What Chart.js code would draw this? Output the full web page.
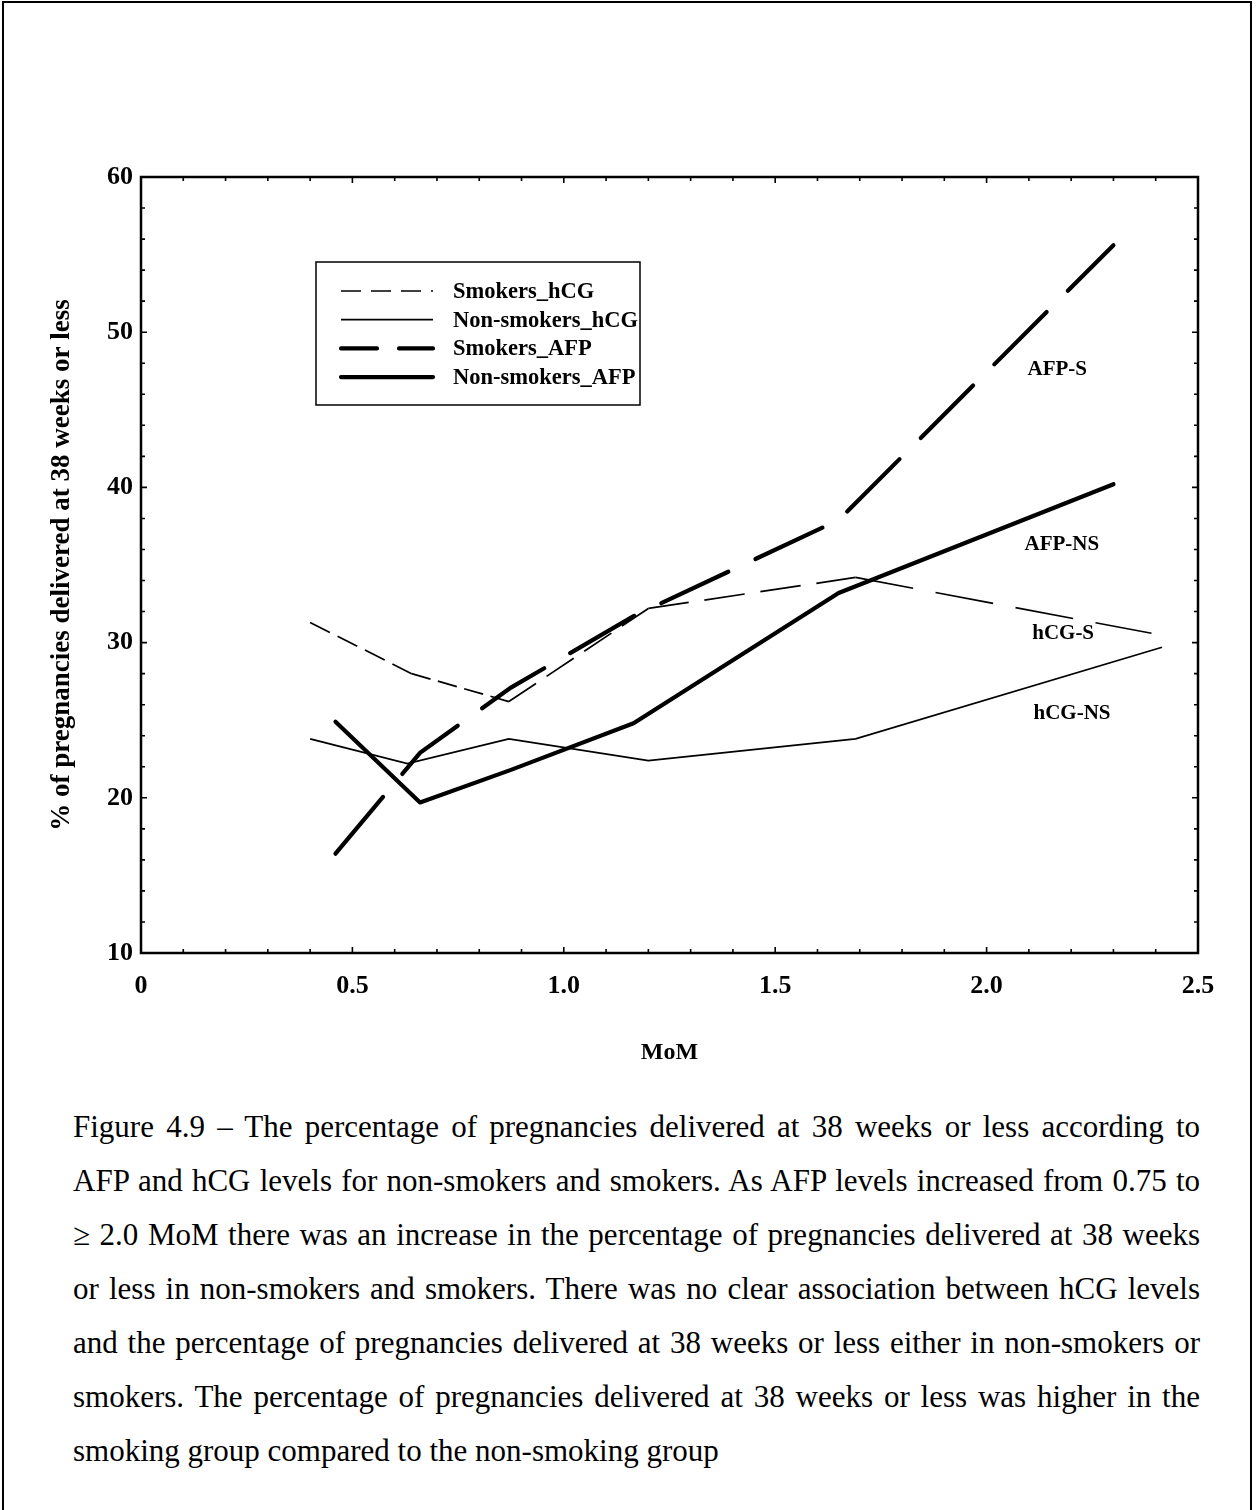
<!DOCTYPE html>
<html>
<head>
<meta charset="utf-8">
<script src="https://cdn.jsdelivr.net/npm/chart.js@4.4.1/dist/chart.umd.min.js"></script>
<style>
  html, body { margin: 0; padding: 0; background: #fff; }
  body { width: 1256px; height: 1510px; position: relative; overflow: hidden; }
  .frame { position: absolute; left: 2px; top: 1px; width: 1250px; height: 1520px;
           border: 2px solid #000; box-sizing: border-box; }
  #wrap { position: absolute; left: 0; top: 0; width: 1256px; height: 1080px; }
  .caption { position: absolute; left: 73px; top: 1100px; width: 1127px;
             font-family: "Liberation Serif", "Times New Roman", serif; font-size: 31px; color: #000; }
  .caption div { height: 54px; line-height: 54px; white-space: nowrap; text-align: justify; text-align-last: justify; }
  .caption div.last { text-align-last: left; }
</style>
</head>
<body>
<div class="frame"></div>
<div id="wrap"><canvas id="chart"></canvas></div>
<div class="caption">
  <div>Figure 4.9 – The percentage of pregnancies delivered at 38 weeks or less according to</div>
  <div>AFP and hCG levels for non-smokers and smokers. As AFP levels increased from 0.75 to</div>
  <div>≥ 2.0 MoM there was an increase in the percentage of pregnancies delivered at 38 weeks</div>
  <div>or less in non-smokers and smokers. There was no clear association between hCG levels</div>
  <div>and the percentage of pregnancies delivered at 38 weeks or less either in non-smokers or</div>
  <div>smokers. The percentage of pregnancies delivered at 38 weeks or less was higher in the</div>
  <div class="last">smoking group compared to the non-smoking group</div>
</div>
<script>
// values (MoM, % delivered at <= 38 weeks)
const smkHcgX = [0.40, 0.64, 0.87, 1.20, 1.69, 2.39]
const smkHcgY = [31.3, 28.0, 26.2, 32.2, 34.2, 30.6]
const nonHcgX = [0.40, 0.63, 0.87, 1.20, 1.69, 2.415]
const nonHcgY = [23.8, 22.2, 23.8, 22.4, 23.8, 29.7]
const smkAfpX = [0.46, 0.66, 0.875, 1.165, 1.65, 2.30]
const smkAfpY = [16.4, 22.9, 27.1, 31.7, 37.9, 55.6]
const nonAfpX = [0.46, 0.66, 0.875, 1.165, 1.65, 2.30]
const nonAfpY = [24.9, 19.7, 21.8, 24.8, 33.2, 40.2]

const seriesNames = ["Smokers_hCG", "Non-smokers_hCG", "Smokers_AFP", "Non-smokers_AFP"]
const xTicks = [0, 0.5, 1.0, 1.5, 2.0, 2.5]
const yTicks = [10, 20, 30, 40, 50, 60]

// in-plot labels: [text, x, y]
const curveLabels = [
  ["AFP-S", 2.167, 47.6],
  ["AFP-NS", 2.178, 36.3],
  ["hCG-S", 2.181, 30.55],
  ["hCG-NS", 2.202, 25.4],
]

const SERIF = "'Liberation Serif', 'Times New Roman', serif"
Chart.defaults.font.family = SERIF
Chart.defaults.color = "#000"

const pts = (xs, ys) => xs.map((x, i) => ({ x, y: ys[i] }))

// thin dashes get shorter/longer with each segment, like the original plot
const segDash = (c) => {
  const len = Math.hypot(c.p1.x - c.p0.x, c.p1.y - c.p0.y)
  const p = len / 3.7
  return [p * 0.72, p * 0.28]
}

const legendDash = [[20, 10], [], [36, 22], []]

const framePlugin = {
  id: "framePlugin",
  afterDatasetsDraw(chart) {
    const { ctx, chartArea: a, scales: { x, y } } = chart
    ctx.save()
    ctx.strokeStyle = "#000"
    ctx.lineWidth = 2.5
    ctx.strokeRect(a.left, a.top, a.right - a.left, a.bottom - a.top)

    // inward tick marks on all four sides
    ctx.lineWidth = 1.6
    ctx.beginPath()
    for (let i = 0; i <= 25; i++) {
      const px = x.getPixelForValue(i / 10)
      const len = i % 5 === 0 ? 6 : 4
      ctx.moveTo(px, a.bottom); ctx.lineTo(px, a.bottom - len)
      ctx.moveTo(px, a.top); ctx.lineTo(px, a.top + len)
    }
    for (let v = 10; v <= 60; v += 2) {
      const py = y.getPixelForValue(v)
      const len = v % 10 === 0 ? 6 : 4
      ctx.moveTo(a.left, py); ctx.lineTo(a.left + len, py)
      ctx.moveTo(a.right, py); ctx.lineTo(a.right - len, py)
    }
    ctx.stroke()

    // legend box
    const lx = 316, ly = 262, lw = 324, lh = 143
    ctx.lineWidth = 1.5
    ctx.strokeRect(lx, ly, lw, lh)
    ctx.font = "bold 22.5px " + SERIF
    ctx.textBaseline = "middle"
    ctx.textAlign = "left"
    chart.data.datasets.forEach((ds, i) => {
      const ry = 291 + i * 28.7
      ctx.beginPath()
      ctx.lineWidth = ds.borderWidth
      ctx.lineCap = ds.borderWidth > 2 ? "round" : "butt"
      ctx.setLineDash(legendDash[i])
      ctx.moveTo(341, ry); ctx.lineTo(433, ry)
      ctx.stroke()
      ctx.setLineDash([])
      ctx.fillText(ds.label, 453, ry + 1)
    })

    // curve names
    ctx.font = "bold 21px " + SERIF
    ctx.textAlign = "center"
    curveLabels.forEach(([t, vx, vy]) => {
      ctx.fillText(t, x.getPixelForValue(vx), y.getPixelForValue(vy))
    })
    ctx.restore()
  },
}

new Chart(document.getElementById("chart"), {
  type: "scatter",
  data: {
    datasets: [
      {
        label: seriesNames[0],
        data: pts(smkHcgX, smkHcgY),
        showLine: true, borderColor: "#000", borderWidth: 1.7,
        pointRadius: 0, segment: { borderDash: segDash },
      },
      {
        label: seriesNames[1],
        data: pts(nonHcgX, nonHcgY),
        showLine: true, borderColor: "#000", borderWidth: 1.7, pointRadius: 0,
      },
      {
        label: seriesNames[2],
        data: pts(smkAfpX, smkAfpY),
        showLine: true, borderColor: "#000", borderWidth: 4.2, pointRadius: 0,
        borderDash: [74, 30], borderCapStyle: "round",
      },
      {
        label: seriesNames[3],
        data: pts(nonAfpX, nonAfpY),
        showLine: true, borderColor: "#000", borderWidth: 4.2, pointRadius: 0,
        borderCapStyle: "round", borderJoinStyle: "round",
      },
    ],
  },
  options: {
    responsive: true,
    maintainAspectRatio: false,
    animation: false,
    layout: { padding: { top: 177, right: 58, left: 0, bottom: 0 } },
    plugins: { legend: { display: false }, tooltip: { enabled: false } },
    scales: {
      x: {
        type: "linear", min: 0, max: 2.5,
        afterFit: (s) => { s.height = 127 },
        afterBuildTicks: (s) => { s.ticks = xTicks.map((v) => ({ value: v })) },
        grid: { display: false, drawTicks: false },
        border: { display: false },
        ticks: {
          padding: 18,
          font: { size: 26, weight: "bold" },
          callback: (v) => (v === 0 ? "0" : Number(v).toFixed(1)),
        },
        title: { display: true, text: "MoM", font: { size: 24, weight: "bold" }, padding: { bottom: 13 } },
      },
      y: {
        type: "linear", min: 10, max: 60,
        afterFit: (s) => { s.width = 141 },
        afterBuildTicks: (s) => { s.ticks = yTicks.map((v) => ({ value: v })) },
        grid: { display: false, drawTicks: false },
        border: { display: false },
        ticks: { padding: 8, font: { size: 26, weight: "bold" } },
        title: {
          display: true, text: "% of pregnancies delivered at 38 weeks or less",
          font: { size: 27, weight: "bold" }, padding: { top: 46 },
        },
      },
    },
  },
  plugins: [framePlugin],
})
</script>
</body>
</html>
